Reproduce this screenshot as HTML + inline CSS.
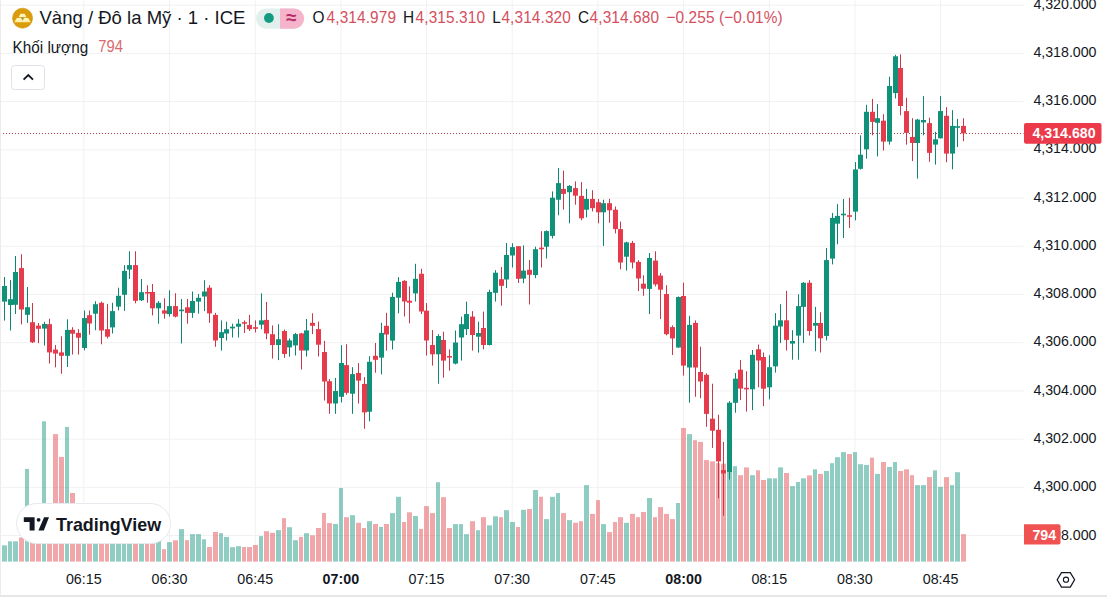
<!DOCTYPE html>
<html><head><meta charset="utf-8">
<style>
html,body{margin:0;padding:0;background:#fff;}
body{width:1107px;height:597px;overflow:hidden;position:relative;font-family:"Liberation Sans",sans-serif;color:#131722;}
svg{position:absolute;left:0;top:0;}
.ax{font-size:14.2px;fill:#131722;}
.tm{font-size:14.3px;fill:#131722;}
.tm.b{font-weight:bold;}
.t{position:absolute;white-space:nowrap;line-height:1;}
</style></head><body>
<svg width="1107" height="597" viewBox="0 0 1107 597">
<rect x="0" y="4.70" width="1023.5" height="1" fill="#f1f1f1"/>
<rect x="0" y="52.91" width="1023.5" height="1" fill="#f1f1f1"/>
<rect x="0" y="101.12" width="1023.5" height="1" fill="#f1f1f1"/>
<rect x="0" y="149.34" width="1023.5" height="1" fill="#f1f1f1"/>
<rect x="0" y="197.55" width="1023.5" height="1" fill="#f1f1f1"/>
<rect x="0" y="245.76" width="1023.5" height="1" fill="#f1f1f1"/>
<rect x="0" y="293.97" width="1023.5" height="1" fill="#f1f1f1"/>
<rect x="0" y="342.18" width="1023.5" height="1" fill="#f1f1f1"/>
<rect x="0" y="390.40" width="1023.5" height="1" fill="#f1f1f1"/>
<rect x="0" y="438.61" width="1023.5" height="1" fill="#f1f1f1"/>
<rect x="0" y="486.82" width="1023.5" height="1" fill="#f1f1f1"/>
<rect x="0" y="535.03" width="1023.5" height="1" fill="#f1f1f1"/>
<rect x="83.32" y="0" width="1" height="561.6" fill="#f1f1f1"/>
<rect x="169.00" y="0" width="1" height="561.6" fill="#f1f1f1"/>
<rect x="254.68" y="0" width="1" height="561.6" fill="#f1f1f1"/>
<rect x="340.36" y="0" width="1" height="561.6" fill="#f1f1f1"/>
<rect x="426.04" y="0" width="1" height="561.6" fill="#f1f1f1"/>
<rect x="511.72" y="0" width="1" height="561.6" fill="#f1f1f1"/>
<rect x="597.40" y="0" width="1" height="561.6" fill="#f1f1f1"/>
<rect x="683.08" y="0" width="1" height="561.6" fill="#f1f1f1"/>
<rect x="768.76" y="0" width="1" height="561.6" fill="#f1f1f1"/>
<rect x="854.44" y="0" width="1" height="561.6" fill="#f1f1f1"/>
<rect x="940.12" y="0" width="1" height="561.6" fill="#f1f1f1"/>
<rect x="2" y="545.30" width="5" height="16.30" fill="rgba(20,150,128,0.48)"/>
<rect x="8" y="541.30" width="4" height="20.30" fill="rgba(20,150,128,0.48)"/>
<rect x="13" y="541.30" width="5" height="20.30" fill="rgba(20,150,128,0.48)"/>
<rect x="19" y="537.50" width="5" height="24.10" fill="rgba(225,70,75,0.48)"/>
<rect x="25" y="468.90" width="4" height="92.70" fill="rgba(20,150,128,0.48)"/>
<rect x="30" y="520.00" width="5" height="41.60" fill="rgba(225,70,75,0.48)"/>
<rect x="36" y="520.00" width="5" height="41.60" fill="rgba(225,70,75,0.48)"/>
<rect x="42" y="421.30" width="4" height="140.30" fill="rgba(20,150,128,0.48)"/>
<rect x="47" y="520.00" width="5" height="41.60" fill="rgba(225,70,75,0.48)"/>
<rect x="53" y="434.10" width="5" height="127.50" fill="rgba(225,70,75,0.48)"/>
<rect x="59" y="456.90" width="5" height="104.70" fill="rgba(225,70,75,0.48)"/>
<rect x="65" y="426.90" width="4" height="134.70" fill="rgba(20,150,128,0.48)"/>
<rect x="70" y="493.00" width="5" height="68.60" fill="rgba(225,70,75,0.48)"/>
<rect x="76" y="520.00" width="5" height="41.60" fill="rgba(225,70,75,0.48)"/>
<rect x="82" y="520.00" width="4" height="41.60" fill="rgba(20,150,128,0.48)"/>
<rect x="87" y="520.00" width="5" height="41.60" fill="rgba(225,70,75,0.48)"/>
<rect x="93" y="520.00" width="5" height="41.60" fill="rgba(20,150,128,0.48)"/>
<rect x="99" y="520.00" width="5" height="41.60" fill="rgba(225,70,75,0.48)"/>
<rect x="105" y="520.00" width="4" height="41.60" fill="rgba(225,70,75,0.48)"/>
<rect x="110" y="520.00" width="5" height="41.60" fill="rgba(20,150,128,0.48)"/>
<rect x="116" y="520.00" width="5" height="41.60" fill="rgba(20,150,128,0.48)"/>
<rect x="122" y="520.00" width="4" height="41.60" fill="rgba(20,150,128,0.48)"/>
<rect x="127" y="520.00" width="5" height="41.60" fill="rgba(20,150,128,0.48)"/>
<rect x="133" y="520.00" width="5" height="41.60" fill="rgba(225,70,75,0.48)"/>
<rect x="139" y="520.00" width="5" height="41.60" fill="rgba(20,150,128,0.48)"/>
<rect x="145" y="520.00" width="4" height="41.60" fill="rgba(225,70,75,0.48)"/>
<rect x="150" y="520.00" width="5" height="41.60" fill="rgba(225,70,75,0.48)"/>
<rect x="156" y="520.00" width="5" height="41.60" fill="rgba(20,150,128,0.48)"/>
<rect x="162" y="549.20" width="4" height="12.40" fill="rgba(225,70,75,0.48)"/>
<rect x="167" y="542.20" width="5" height="19.40" fill="rgba(20,150,128,0.48)"/>
<rect x="173" y="540.30" width="5" height="21.30" fill="rgba(225,70,75,0.48)"/>
<rect x="179" y="529.10" width="5" height="32.50" fill="rgba(20,150,128,0.48)"/>
<rect x="185" y="540.20" width="4" height="21.40" fill="rgba(225,70,75,0.48)"/>
<rect x="190" y="534.10" width="5" height="27.50" fill="rgba(20,150,128,0.48)"/>
<rect x="196" y="534.10" width="5" height="27.50" fill="rgba(20,150,128,0.48)"/>
<rect x="202" y="539.30" width="4" height="22.30" fill="rgba(20,150,128,0.48)"/>
<rect x="207" y="547.00" width="5" height="14.60" fill="rgba(225,70,75,0.48)"/>
<rect x="213" y="532.00" width="5" height="29.60" fill="rgba(225,70,75,0.48)"/>
<rect x="219" y="533.20" width="4" height="28.40" fill="rgba(20,150,128,0.48)"/>
<rect x="224" y="536.90" width="5" height="24.70" fill="rgba(20,150,128,0.48)"/>
<rect x="230" y="547.20" width="5" height="14.40" fill="rgba(20,150,128,0.48)"/>
<rect x="236" y="546.20" width="5" height="15.40" fill="rgba(20,150,128,0.48)"/>
<rect x="242" y="547.00" width="4" height="14.60" fill="rgba(225,70,75,0.48)"/>
<rect x="247" y="547.00" width="5" height="14.60" fill="rgba(225,70,75,0.48)"/>
<rect x="253" y="545.00" width="5" height="16.60" fill="rgba(225,70,75,0.48)"/>
<rect x="259" y="536.10" width="4" height="25.50" fill="rgba(20,150,128,0.48)"/>
<rect x="264" y="531.20" width="5" height="30.40" fill="rgba(225,70,75,0.48)"/>
<rect x="270" y="532.80" width="5" height="28.80" fill="rgba(225,70,75,0.48)"/>
<rect x="276" y="530.10" width="5" height="31.50" fill="rgba(20,150,128,0.48)"/>
<rect x="282" y="518.20" width="4" height="43.40" fill="rgba(225,70,75,0.48)"/>
<rect x="287" y="527.20" width="5" height="34.40" fill="rgba(20,150,128,0.48)"/>
<rect x="293" y="540.20" width="5" height="21.40" fill="rgba(20,150,128,0.48)"/>
<rect x="299" y="536.90" width="4" height="24.70" fill="rgba(225,70,75,0.48)"/>
<rect x="304" y="533.20" width="5" height="28.40" fill="rgba(20,150,128,0.48)"/>
<rect x="310" y="535.30" width="5" height="26.30" fill="rgba(225,70,75,0.48)"/>
<rect x="316" y="528.00" width="5" height="33.60" fill="rgba(225,70,75,0.48)"/>
<rect x="322" y="513.00" width="4" height="48.60" fill="rgba(225,70,75,0.48)"/>
<rect x="327" y="523.10" width="5" height="38.50" fill="rgba(225,70,75,0.48)"/>
<rect x="333" y="524.00" width="5" height="37.60" fill="rgba(20,150,128,0.48)"/>
<rect x="339" y="488.00" width="4" height="73.60" fill="rgba(20,150,128,0.48)"/>
<rect x="344" y="517.20" width="5" height="44.40" fill="rgba(225,70,75,0.48)"/>
<rect x="350" y="515.20" width="5" height="46.40" fill="rgba(20,150,128,0.48)"/>
<rect x="356" y="522.80" width="5" height="38.80" fill="rgba(225,70,75,0.48)"/>
<rect x="362" y="528.00" width="4" height="33.60" fill="rgba(225,70,75,0.48)"/>
<rect x="367" y="521.20" width="5" height="40.40" fill="rgba(20,150,128,0.48)"/>
<rect x="373" y="524.00" width="5" height="37.60" fill="rgba(225,70,75,0.48)"/>
<rect x="379" y="526.90" width="4" height="34.70" fill="rgba(20,150,128,0.48)"/>
<rect x="384" y="524.00" width="5" height="37.60" fill="rgba(225,70,75,0.48)"/>
<rect x="390" y="513.10" width="5" height="48.50" fill="rgba(20,150,128,0.48)"/>
<rect x="396" y="496.80" width="5" height="64.80" fill="rgba(20,150,128,0.48)"/>
<rect x="402" y="522.00" width="4" height="39.60" fill="rgba(225,70,75,0.48)"/>
<rect x="407" y="512.30" width="5" height="49.30" fill="rgba(225,70,75,0.48)"/>
<rect x="413" y="516.00" width="5" height="45.60" fill="rgba(20,150,128,0.48)"/>
<rect x="419" y="528.90" width="4" height="32.70" fill="rgba(225,70,75,0.48)"/>
<rect x="424" y="506.10" width="5" height="55.50" fill="rgba(225,70,75,0.48)"/>
<rect x="430" y="513.10" width="5" height="48.50" fill="rgba(225,70,75,0.48)"/>
<rect x="436" y="482.20" width="4" height="79.40" fill="rgba(20,150,128,0.48)"/>
<rect x="441" y="497.20" width="5" height="64.40" fill="rgba(225,70,75,0.48)"/>
<rect x="447" y="528.00" width="5" height="33.60" fill="rgba(225,70,75,0.48)"/>
<rect x="453" y="524.10" width="5" height="37.50" fill="rgba(20,150,128,0.48)"/>
<rect x="459" y="524.10" width="4" height="37.50" fill="rgba(20,150,128,0.48)"/>
<rect x="464" y="534.20" width="5" height="27.40" fill="rgba(20,150,128,0.48)"/>
<rect x="470" y="521.20" width="5" height="40.40" fill="rgba(225,70,75,0.48)"/>
<rect x="476" y="530.20" width="4" height="31.40" fill="rgba(20,150,128,0.48)"/>
<rect x="481" y="517.20" width="5" height="44.40" fill="rgba(225,70,75,0.48)"/>
<rect x="487" y="525.30" width="5" height="36.30" fill="rgba(20,150,128,0.48)"/>
<rect x="493" y="516.30" width="5" height="45.30" fill="rgba(20,150,128,0.48)"/>
<rect x="499" y="517.20" width="4" height="44.40" fill="rgba(225,70,75,0.48)"/>
<rect x="504" y="510.20" width="5" height="51.40" fill="rgba(20,150,128,0.48)"/>
<rect x="510" y="522.00" width="5" height="39.60" fill="rgba(20,150,128,0.48)"/>
<rect x="516" y="526.90" width="4" height="34.70" fill="rgba(225,70,75,0.48)"/>
<rect x="521" y="509.80" width="5" height="51.80" fill="rgba(20,150,128,0.48)"/>
<rect x="527" y="509.00" width="5" height="52.60" fill="rgba(225,70,75,0.48)"/>
<rect x="533" y="490.00" width="5" height="71.60" fill="rgba(20,150,128,0.48)"/>
<rect x="539" y="496.80" width="4" height="64.80" fill="rgba(225,70,75,0.48)"/>
<rect x="544" y="519.10" width="5" height="42.50" fill="rgba(20,150,128,0.48)"/>
<rect x="550" y="496.80" width="5" height="64.80" fill="rgba(20,150,128,0.48)"/>
<rect x="556" y="493.10" width="4" height="68.50" fill="rgba(20,150,128,0.48)"/>
<rect x="561" y="513.10" width="5" height="48.50" fill="rgba(225,70,75,0.48)"/>
<rect x="567" y="520.10" width="5" height="41.50" fill="rgba(20,150,128,0.48)"/>
<rect x="573" y="522.80" width="5" height="38.80" fill="rgba(225,70,75,0.48)"/>
<rect x="579" y="521.20" width="4" height="40.40" fill="rgba(225,70,75,0.48)"/>
<rect x="584" y="485.10" width="5" height="76.50" fill="rgba(20,150,128,0.48)"/>
<rect x="590" y="513.90" width="5" height="47.70" fill="rgba(225,70,75,0.48)"/>
<rect x="596" y="500.10" width="4" height="61.50" fill="rgba(225,70,75,0.48)"/>
<rect x="601" y="524.10" width="5" height="37.50" fill="rgba(20,150,128,0.48)"/>
<rect x="607" y="532.10" width="5" height="29.50" fill="rgba(225,70,75,0.48)"/>
<rect x="613" y="522.00" width="4" height="39.60" fill="rgba(225,70,75,0.48)"/>
<rect x="618" y="517.20" width="5" height="44.40" fill="rgba(225,70,75,0.48)"/>
<rect x="624" y="522.80" width="5" height="38.80" fill="rgba(20,150,128,0.48)"/>
<rect x="630" y="513.90" width="5" height="47.70" fill="rgba(225,70,75,0.48)"/>
<rect x="636" y="517.20" width="4" height="44.40" fill="rgba(225,70,75,0.48)"/>
<rect x="641" y="512.00" width="5" height="49.60" fill="rgba(225,70,75,0.48)"/>
<rect x="647" y="498.00" width="5" height="63.60" fill="rgba(20,150,128,0.48)"/>
<rect x="653" y="517.20" width="4" height="44.40" fill="rgba(225,70,75,0.48)"/>
<rect x="658" y="507.10" width="5" height="54.50" fill="rgba(225,70,75,0.48)"/>
<rect x="664" y="513.90" width="5" height="47.70" fill="rgba(225,70,75,0.48)"/>
<rect x="670" y="519.10" width="5" height="42.50" fill="rgba(225,70,75,0.48)"/>
<rect x="676" y="503.00" width="4" height="58.60" fill="rgba(20,150,128,0.48)"/>
<rect x="681" y="428.00" width="5" height="133.60" fill="rgba(225,70,75,0.48)"/>
<rect x="687" y="434.10" width="5" height="127.50" fill="rgba(20,150,128,0.48)"/>
<rect x="693" y="440.20" width="4" height="121.40" fill="rgba(225,70,75,0.48)"/>
<rect x="698" y="441.90" width="5" height="119.70" fill="rgba(225,70,75,0.48)"/>
<rect x="704" y="460.10" width="5" height="101.50" fill="rgba(225,70,75,0.48)"/>
<rect x="710" y="461.30" width="5" height="100.30" fill="rgba(225,70,75,0.48)"/>
<rect x="716" y="463.20" width="4" height="98.40" fill="rgba(225,70,75,0.48)"/>
<rect x="721" y="463.70" width="5" height="97.90" fill="rgba(225,70,75,0.48)"/>
<rect x="727" y="466.00" width="5" height="95.60" fill="rgba(20,150,128,0.48)"/>
<rect x="733" y="466.20" width="4" height="95.40" fill="rgba(20,150,128,0.48)"/>
<rect x="738" y="475.20" width="5" height="86.40" fill="rgba(225,70,75,0.48)"/>
<rect x="744" y="467.40" width="5" height="94.20" fill="rgba(225,70,75,0.48)"/>
<rect x="750" y="475.20" width="5" height="86.40" fill="rgba(20,150,128,0.48)"/>
<rect x="756" y="470.30" width="4" height="91.30" fill="rgba(225,70,75,0.48)"/>
<rect x="761" y="480.00" width="5" height="81.60" fill="rgba(225,70,75,0.48)"/>
<rect x="767" y="478.30" width="5" height="83.30" fill="rgba(20,150,128,0.48)"/>
<rect x="773" y="478.30" width="4" height="83.30" fill="rgba(20,150,128,0.48)"/>
<rect x="778" y="467.40" width="5" height="94.20" fill="rgba(20,150,128,0.48)"/>
<rect x="784" y="473.00" width="5" height="88.60" fill="rgba(225,70,75,0.48)"/>
<rect x="790" y="486.10" width="5" height="75.50" fill="rgba(20,150,128,0.48)"/>
<rect x="796" y="482.00" width="4" height="79.60" fill="rgba(20,150,128,0.48)"/>
<rect x="801" y="478.30" width="5" height="83.30" fill="rgba(20,150,128,0.48)"/>
<rect x="807" y="475.40" width="5" height="86.20" fill="rgba(225,70,75,0.48)"/>
<rect x="813" y="469.30" width="4" height="92.30" fill="rgba(20,150,128,0.48)"/>
<rect x="818" y="473.90" width="5" height="87.70" fill="rgba(225,70,75,0.48)"/>
<rect x="824" y="471.00" width="5" height="90.60" fill="rgba(20,150,128,0.48)"/>
<rect x="830" y="463.20" width="4" height="98.40" fill="rgba(20,150,128,0.48)"/>
<rect x="835" y="457.20" width="5" height="104.40" fill="rgba(20,150,128,0.48)"/>
<rect x="841" y="452.10" width="5" height="109.50" fill="rgba(20,150,128,0.48)"/>
<rect x="847" y="454.00" width="5" height="107.60" fill="rgba(225,70,75,0.48)"/>
<rect x="853" y="452.10" width="4" height="109.50" fill="rgba(20,150,128,0.48)"/>
<rect x="858" y="464.20" width="5" height="97.40" fill="rgba(20,150,128,0.48)"/>
<rect x="864" y="464.90" width="5" height="96.70" fill="rgba(20,150,128,0.48)"/>
<rect x="870" y="457.70" width="4" height="103.90" fill="rgba(225,70,75,0.48)"/>
<rect x="875" y="473.90" width="5" height="87.70" fill="rgba(20,150,128,0.48)"/>
<rect x="881" y="462.00" width="5" height="99.60" fill="rgba(225,70,75,0.48)"/>
<rect x="887" y="466.90" width="5" height="94.70" fill="rgba(20,150,128,0.48)"/>
<rect x="893" y="462.00" width="4" height="99.60" fill="rgba(20,150,128,0.48)"/>
<rect x="898" y="471.00" width="5" height="90.60" fill="rgba(225,70,75,0.48)"/>
<rect x="904" y="469.30" width="5" height="92.30" fill="rgba(225,70,75,0.48)"/>
<rect x="910" y="475.20" width="4" height="86.40" fill="rgba(225,70,75,0.48)"/>
<rect x="915" y="485.10" width="5" height="76.50" fill="rgba(20,150,128,0.48)"/>
<rect x="921" y="485.10" width="5" height="76.50" fill="rgba(20,150,128,0.48)"/>
<rect x="927" y="477.10" width="5" height="84.50" fill="rgba(225,70,75,0.48)"/>
<rect x="933" y="470.30" width="4" height="91.30" fill="rgba(20,150,128,0.48)"/>
<rect x="938" y="486.80" width="5" height="74.80" fill="rgba(20,150,128,0.48)"/>
<rect x="944" y="477.10" width="5" height="84.50" fill="rgba(225,70,75,0.48)"/>
<rect x="950" y="485.10" width="4" height="76.50" fill="rgba(20,150,128,0.48)"/>
<rect x="955" y="472.20" width="5" height="89.40" fill="rgba(20,150,128,0.48)"/>
<rect x="961" y="534.20" width="5" height="27.40" fill="rgba(225,70,75,0.48)"/>
<line x1="0" y1="133.5" x2="1023.5" y2="133.5" stroke="#b5434f" stroke-width="1" stroke-dasharray="1 2"/>
<rect x="4" y="277.00" width="1" height="43.60" fill="#0d8570"/>
<rect x="2" y="286.00" width="5" height="15.60" fill="#10917a"/>
<rect x="10" y="280.00" width="1" height="50.50" fill="#0d8570"/>
<rect x="8" y="299.20" width="5" height="5.80" fill="#10917a"/>
<rect x="15" y="256.00" width="1" height="58.00" fill="#0d8570"/>
<rect x="13" y="272.00" width="5" height="32.80" fill="#10917a"/>
<rect x="21" y="254.20" width="1" height="70.20" fill="#c8384a"/>
<rect x="19" y="268.10" width="5" height="41.40" fill="#e53b4d"/>
<rect x="27" y="287.00" width="1" height="36.00" fill="#0d8570"/>
<rect x="25" y="307.20" width="5" height="7.60" fill="#10917a"/>
<rect x="32" y="303.00" width="1" height="40.00" fill="#c8384a"/>
<rect x="30" y="322.20" width="5" height="20.10" fill="#e53b4d"/>
<rect x="38" y="323.00" width="1" height="20.20" fill="#c8384a"/>
<rect x="36" y="325.60" width="5" height="3.20" fill="#e53b4d"/>
<rect x="44" y="321.80" width="1" height="23.80" fill="#0d8570"/>
<rect x="42" y="324.00" width="5" height="4.60" fill="#10917a"/>
<rect x="49" y="318.80" width="1" height="44.70" fill="#c8384a"/>
<rect x="47" y="324.20" width="5" height="28.20" fill="#e53b4d"/>
<rect x="55" y="345.00" width="1" height="22.40" fill="#c8384a"/>
<rect x="53" y="349.60" width="5" height="4.00" fill="#e53b4d"/>
<rect x="61" y="336.30" width="1" height="37.50" fill="#c8384a"/>
<rect x="59" y="352.40" width="5" height="3.40" fill="#e53b4d"/>
<rect x="67" y="319.30" width="1" height="47.70" fill="#0d8570"/>
<rect x="65" y="329.90" width="5" height="25.90" fill="#10917a"/>
<rect x="72" y="327.20" width="1" height="27.30" fill="#c8384a"/>
<rect x="70" y="329.80" width="5" height="3.90" fill="#e53b4d"/>
<rect x="78" y="329.20" width="1" height="25.30" fill="#c8384a"/>
<rect x="76" y="332.90" width="5" height="4.80" fill="#e53b4d"/>
<rect x="84" y="310.50" width="1" height="39.90" fill="#0d8570"/>
<rect x="82" y="318.10" width="5" height="29.90" fill="#10917a"/>
<rect x="89" y="310.50" width="1" height="24.20" fill="#c8384a"/>
<rect x="87" y="315.20" width="5" height="8.30" fill="#e53b4d"/>
<rect x="95" y="301.20" width="1" height="29.00" fill="#0d8570"/>
<rect x="93" y="304.20" width="5" height="9.50" fill="#10917a"/>
<rect x="101" y="301.60" width="1" height="42.70" fill="#c8384a"/>
<rect x="99" y="302.80" width="5" height="27.70" fill="#e53b4d"/>
<rect x="107" y="304.00" width="1" height="34.50" fill="#c8384a"/>
<rect x="105" y="329.20" width="5" height="7.50" fill="#e53b4d"/>
<rect x="112" y="302.80" width="1" height="30.70" fill="#0d8570"/>
<rect x="110" y="311.10" width="5" height="16.30" fill="#10917a"/>
<rect x="118" y="287.70" width="1" height="22.70" fill="#0d8570"/>
<rect x="116" y="295.80" width="5" height="10.80" fill="#10917a"/>
<rect x="124" y="265.10" width="1" height="45.80" fill="#0d8570"/>
<rect x="122" y="270.90" width="5" height="23.90" fill="#10917a"/>
<rect x="129" y="251.30" width="1" height="27.70" fill="#0d8570"/>
<rect x="127" y="265.10" width="5" height="4.50" fill="#10917a"/>
<rect x="135" y="251.30" width="1" height="52.00" fill="#c8384a"/>
<rect x="133" y="265.10" width="5" height="35.70" fill="#e53b4d"/>
<rect x="141" y="279.00" width="1" height="22.00" fill="#0d8570"/>
<rect x="139" y="292.20" width="5" height="8.10" fill="#10917a"/>
<rect x="147" y="285.20" width="1" height="17.60" fill="#c8384a"/>
<rect x="145" y="292.00" width="5" height="1.60" fill="#e53b4d"/>
<rect x="152" y="284.00" width="1" height="31.40" fill="#c8384a"/>
<rect x="150" y="292.00" width="5" height="16.30" fill="#e53b4d"/>
<rect x="158" y="301.00" width="1" height="22.70" fill="#0d8570"/>
<rect x="156" y="302.80" width="5" height="5.50" fill="#10917a"/>
<rect x="164" y="298.30" width="1" height="20.30" fill="#c8384a"/>
<rect x="162" y="310.40" width="5" height="3.20" fill="#e53b4d"/>
<rect x="169" y="290.30" width="1" height="26.30" fill="#0d8570"/>
<rect x="167" y="306.10" width="5" height="8.00" fill="#10917a"/>
<rect x="175" y="293.30" width="1" height="24.10" fill="#c8384a"/>
<rect x="173" y="306.10" width="5" height="10.50" fill="#e53b4d"/>
<rect x="181" y="299.00" width="1" height="44.50" fill="#0d8570"/>
<rect x="179" y="309.60" width="5" height="1.60" fill="#10917a"/>
<rect x="187" y="299.00" width="1" height="24.70" fill="#c8384a"/>
<rect x="185" y="307.30" width="5" height="5.60" fill="#e53b4d"/>
<rect x="192" y="291.50" width="1" height="26.40" fill="#0d8570"/>
<rect x="190" y="301.00" width="5" height="11.90" fill="#10917a"/>
<rect x="198" y="294.00" width="1" height="19.60" fill="#0d8570"/>
<rect x="196" y="297.80" width="5" height="3.80" fill="#10917a"/>
<rect x="204" y="280.20" width="1" height="30.90" fill="#0d8570"/>
<rect x="202" y="291.50" width="5" height="5.00" fill="#10917a"/>
<rect x="209" y="285.20" width="1" height="37.70" fill="#c8384a"/>
<rect x="207" y="287.70" width="5" height="25.70" fill="#e53b4d"/>
<rect x="215" y="312.90" width="1" height="33.90" fill="#c8384a"/>
<rect x="213" y="314.90" width="5" height="25.60" fill="#e53b4d"/>
<rect x="221" y="320.40" width="1" height="30.20" fill="#0d8570"/>
<rect x="219" y="332.20" width="5" height="5.80" fill="#10917a"/>
<rect x="226" y="321.70" width="1" height="18.80" fill="#0d8570"/>
<rect x="224" y="329.20" width="5" height="4.30" fill="#10917a"/>
<rect x="232" y="323.70" width="1" height="13.80" fill="#0d8570"/>
<rect x="230" y="326.70" width="5" height="1.70" fill="#10917a"/>
<rect x="238" y="319.10" width="1" height="18.40" fill="#0d8570"/>
<rect x="236" y="323.70" width="5" height="3.00" fill="#10917a"/>
<rect x="244" y="320.40" width="1" height="12.60" fill="#c8384a"/>
<rect x="242" y="322.15" width="5" height="1.60" fill="#e53b4d"/>
<rect x="249" y="314.90" width="1" height="16.10" fill="#c8384a"/>
<rect x="247" y="324.90" width="5" height="4.30" fill="#e53b4d"/>
<rect x="255" y="320.40" width="1" height="12.10" fill="#c8384a"/>
<rect x="253" y="327.20" width="5" height="1.60" fill="#e53b4d"/>
<rect x="261" y="293.30" width="1" height="35.90" fill="#0d8570"/>
<rect x="259" y="320.40" width="5" height="4.30" fill="#10917a"/>
<rect x="266" y="302.00" width="1" height="37.20" fill="#c8384a"/>
<rect x="264" y="319.90" width="5" height="13.60" fill="#e53b4d"/>
<rect x="272" y="325.40" width="1" height="33.20" fill="#c8384a"/>
<rect x="270" y="334.20" width="5" height="10.80" fill="#e53b4d"/>
<rect x="278" y="324.20" width="1" height="35.90" fill="#0d8570"/>
<rect x="276" y="339.20" width="5" height="5.80" fill="#10917a"/>
<rect x="284" y="329.50" width="1" height="28.30" fill="#c8384a"/>
<rect x="282" y="331.00" width="5" height="23.00" fill="#e53b4d"/>
<rect x="289" y="338.40" width="1" height="18.30" fill="#0d8570"/>
<rect x="287" y="340.40" width="5" height="7.00" fill="#10917a"/>
<rect x="295" y="332.90" width="1" height="22.60" fill="#0d8570"/>
<rect x="293" y="334.10" width="5" height="11.30" fill="#10917a"/>
<rect x="301" y="332.90" width="1" height="36.60" fill="#c8384a"/>
<rect x="299" y="333.40" width="5" height="17.10" fill="#e53b4d"/>
<rect x="306" y="319.00" width="1" height="37.60" fill="#0d8570"/>
<rect x="304" y="330.40" width="5" height="20.10" fill="#10917a"/>
<rect x="312" y="313.30" width="1" height="20.80" fill="#c8384a"/>
<rect x="310" y="322.80" width="5" height="3.00" fill="#e53b4d"/>
<rect x="318" y="321.60" width="1" height="34.90" fill="#c8384a"/>
<rect x="316" y="329.10" width="5" height="15.60" fill="#e53b4d"/>
<rect x="324" y="340.90" width="1" height="59.60" fill="#c8384a"/>
<rect x="322" y="352.00" width="5" height="29.50" fill="#e53b4d"/>
<rect x="329" y="379.00" width="1" height="34.80" fill="#c8384a"/>
<rect x="327" y="381.20" width="5" height="22.30" fill="#e53b4d"/>
<rect x="335" y="377.90" width="1" height="35.90" fill="#0d8570"/>
<rect x="333" y="391.00" width="5" height="12.50" fill="#10917a"/>
<rect x="341" y="345.20" width="1" height="57.30" fill="#0d8570"/>
<rect x="339" y="363.00" width="5" height="33.80" fill="#10917a"/>
<rect x="346" y="344.20" width="1" height="50.50" fill="#c8384a"/>
<rect x="344" y="365.10" width="5" height="27.70" fill="#e53b4d"/>
<rect x="352" y="367.20" width="1" height="46.60" fill="#0d8570"/>
<rect x="350" y="374.10" width="5" height="19.60" fill="#10917a"/>
<rect x="358" y="363.10" width="1" height="40.40" fill="#c8384a"/>
<rect x="356" y="373.00" width="5" height="7.60" fill="#e53b4d"/>
<rect x="364" y="377.10" width="1" height="51.70" fill="#c8384a"/>
<rect x="362" y="383.90" width="5" height="28.50" fill="#e53b4d"/>
<rect x="369" y="356.30" width="1" height="65.00" fill="#0d8570"/>
<rect x="367" y="361.80" width="5" height="49.90" fill="#10917a"/>
<rect x="375" y="343.00" width="1" height="29.70" fill="#c8384a"/>
<rect x="373" y="355.80" width="5" height="4.00" fill="#e53b4d"/>
<rect x="381" y="322.80" width="1" height="51.60" fill="#0d8570"/>
<rect x="379" y="332.90" width="5" height="24.70" fill="#10917a"/>
<rect x="386" y="312.80" width="1" height="37.90" fill="#c8384a"/>
<rect x="384" y="325.80" width="5" height="8.70" fill="#e53b4d"/>
<rect x="392" y="292.70" width="1" height="56.80" fill="#0d8570"/>
<rect x="390" y="296.90" width="5" height="43.70" fill="#10917a"/>
<rect x="398" y="277.10" width="1" height="36.20" fill="#0d8570"/>
<rect x="396" y="281.90" width="5" height="15.80" fill="#10917a"/>
<rect x="404" y="280.10" width="1" height="36.40" fill="#c8384a"/>
<rect x="402" y="280.90" width="5" height="20.60" fill="#e53b4d"/>
<rect x="409" y="286.40" width="1" height="36.90" fill="#c8384a"/>
<rect x="407" y="300.70" width="5" height="2.00" fill="#e53b4d"/>
<rect x="415" y="263.80" width="1" height="37.70" fill="#0d8570"/>
<rect x="413" y="278.80" width="5" height="14.60" fill="#10917a"/>
<rect x="421" y="268.80" width="1" height="45.20" fill="#c8384a"/>
<rect x="419" y="273.80" width="5" height="37.70" fill="#e53b4d"/>
<rect x="426" y="303.00" width="1" height="52.50" fill="#c8384a"/>
<rect x="424" y="310.70" width="5" height="29.80" fill="#e53b4d"/>
<rect x="432" y="330.00" width="1" height="35.60" fill="#c8384a"/>
<rect x="430" y="345.00" width="5" height="9.30" fill="#e53b4d"/>
<rect x="438" y="334.20" width="1" height="49.50" fill="#0d8570"/>
<rect x="436" y="336.00" width="5" height="18.30" fill="#10917a"/>
<rect x="443" y="331.70" width="1" height="46.00" fill="#c8384a"/>
<rect x="441" y="340.00" width="5" height="20.60" fill="#e53b4d"/>
<rect x="449" y="349.30" width="1" height="21.40" fill="#c8384a"/>
<rect x="447" y="356.00" width="5" height="1.60" fill="#e53b4d"/>
<rect x="455" y="330.50" width="1" height="33.90" fill="#0d8570"/>
<rect x="453" y="342.50" width="5" height="21.10" fill="#10917a"/>
<rect x="461" y="316.60" width="1" height="44.00" fill="#0d8570"/>
<rect x="459" y="324.20" width="5" height="13.30" fill="#10917a"/>
<rect x="466" y="301.60" width="1" height="33.40" fill="#0d8570"/>
<rect x="464" y="314.10" width="5" height="15.10" fill="#10917a"/>
<rect x="472" y="311.10" width="1" height="39.50" fill="#c8384a"/>
<rect x="470" y="316.60" width="5" height="18.40" fill="#e53b4d"/>
<rect x="478" y="321.70" width="1" height="30.90" fill="#0d8570"/>
<rect x="476" y="333.00" width="5" height="3.70" fill="#10917a"/>
<rect x="483" y="311.60" width="1" height="37.70" fill="#c8384a"/>
<rect x="481" y="328.00" width="5" height="17.00" fill="#e53b4d"/>
<rect x="489" y="289.70" width="1" height="55.80" fill="#0d8570"/>
<rect x="487" y="292.00" width="5" height="53.00" fill="#10917a"/>
<rect x="495" y="270.20" width="1" height="31.40" fill="#0d8570"/>
<rect x="493" y="272.70" width="5" height="20.10" fill="#10917a"/>
<rect x="501" y="267.00" width="1" height="38.70" fill="#c8384a"/>
<rect x="499" y="279.20" width="5" height="6.60" fill="#e53b4d"/>
<rect x="506" y="243.00" width="1" height="45.10" fill="#0d8570"/>
<rect x="504" y="255.00" width="5" height="24.50" fill="#10917a"/>
<rect x="512" y="243.20" width="1" height="24.30" fill="#0d8570"/>
<rect x="510" y="247.10" width="5" height="8.40" fill="#10917a"/>
<rect x="518" y="246.00" width="1" height="37.00" fill="#c8384a"/>
<rect x="516" y="246.20" width="5" height="32.60" fill="#e53b4d"/>
<rect x="523" y="245.40" width="1" height="37.70" fill="#0d8570"/>
<rect x="521" y="270.60" width="5" height="8.00" fill="#10917a"/>
<rect x="529" y="260.00" width="1" height="44.50" fill="#c8384a"/>
<rect x="527" y="269.80" width="5" height="5.00" fill="#e53b4d"/>
<rect x="535" y="246.70" width="1" height="31.40" fill="#0d8570"/>
<rect x="533" y="249.20" width="5" height="25.90" fill="#10917a"/>
<rect x="541" y="231.10" width="1" height="36.40" fill="#c8384a"/>
<rect x="539" y="247.65" width="5" height="1.60" fill="#e53b4d"/>
<rect x="546" y="230.40" width="1" height="28.10" fill="#0d8570"/>
<rect x="544" y="231.10" width="5" height="15.60" fill="#10917a"/>
<rect x="552" y="191.40" width="1" height="47.00" fill="#0d8570"/>
<rect x="550" y="197.70" width="5" height="38.20" fill="#10917a"/>
<rect x="558" y="168.00" width="1" height="47.30" fill="#0d8570"/>
<rect x="556" y="183.10" width="5" height="16.60" fill="#10917a"/>
<rect x="563" y="170.60" width="1" height="39.10" fill="#c8384a"/>
<rect x="561" y="188.90" width="5" height="5.00" fill="#e53b4d"/>
<rect x="569" y="185.10" width="1" height="38.20" fill="#0d8570"/>
<rect x="567" y="185.90" width="5" height="6.30" fill="#10917a"/>
<rect x="575" y="181.40" width="1" height="23.30" fill="#c8384a"/>
<rect x="573" y="188.10" width="5" height="7.60" fill="#e53b4d"/>
<rect x="581" y="182.10" width="1" height="38.20" fill="#c8384a"/>
<rect x="579" y="195.90" width="5" height="22.40" fill="#e53b4d"/>
<rect x="586" y="188.90" width="1" height="28.40" fill="#0d8570"/>
<rect x="584" y="198.90" width="5" height="10.80" fill="#10917a"/>
<rect x="592" y="190.20" width="1" height="21.30" fill="#c8384a"/>
<rect x="590" y="198.90" width="5" height="9.30" fill="#e53b4d"/>
<rect x="598" y="198.90" width="1" height="24.40" fill="#c8384a"/>
<rect x="596" y="202.20" width="5" height="10.10" fill="#e53b4d"/>
<rect x="603" y="199.70" width="1" height="46.20" fill="#0d8570"/>
<rect x="601" y="203.20" width="5" height="9.10" fill="#10917a"/>
<rect x="609" y="198.90" width="1" height="23.90" fill="#c8384a"/>
<rect x="607" y="203.20" width="5" height="7.10" fill="#e53b4d"/>
<rect x="615" y="206.50" width="1" height="26.90" fill="#c8384a"/>
<rect x="613" y="209.70" width="5" height="19.40" fill="#e53b4d"/>
<rect x="620" y="221.60" width="1" height="47.70" fill="#c8384a"/>
<rect x="618" y="229.10" width="5" height="33.40" fill="#e53b4d"/>
<rect x="626" y="241.70" width="1" height="28.90" fill="#0d8570"/>
<rect x="624" y="242.40" width="5" height="14.30" fill="#10917a"/>
<rect x="632" y="240.90" width="1" height="27.60" fill="#c8384a"/>
<rect x="630" y="242.90" width="5" height="19.60" fill="#e53b4d"/>
<rect x="638" y="260.20" width="1" height="30.90" fill="#c8384a"/>
<rect x="636" y="261.90" width="5" height="16.60" fill="#e53b4d"/>
<rect x="643" y="275.30" width="1" height="20.50" fill="#c8384a"/>
<rect x="641" y="283.70" width="5" height="5.00" fill="#e53b4d"/>
<rect x="649" y="253.00" width="1" height="61.10" fill="#0d8570"/>
<rect x="647" y="258.00" width="5" height="30.90" fill="#10917a"/>
<rect x="655" y="251.30" width="1" height="35.10" fill="#c8384a"/>
<rect x="653" y="260.60" width="5" height="23.80" fill="#e53b4d"/>
<rect x="660" y="273.10" width="1" height="46.00" fill="#c8384a"/>
<rect x="658" y="275.60" width="5" height="14.10" fill="#e53b4d"/>
<rect x="666" y="285.20" width="1" height="50.20" fill="#c8384a"/>
<rect x="664" y="294.00" width="5" height="40.20" fill="#e53b4d"/>
<rect x="672" y="325.40" width="1" height="29.60" fill="#c8384a"/>
<rect x="670" y="327.10" width="5" height="11.30" fill="#e53b4d"/>
<rect x="678" y="296.50" width="1" height="51.50" fill="#0d8570"/>
<rect x="676" y="297.00" width="5" height="50.50" fill="#10917a"/>
<rect x="683" y="282.70" width="1" height="92.90" fill="#c8384a"/>
<rect x="681" y="296.00" width="5" height="69.60" fill="#e53b4d"/>
<rect x="689" y="315.80" width="1" height="86.90" fill="#0d8570"/>
<rect x="687" y="324.90" width="5" height="42.60" fill="#10917a"/>
<rect x="695" y="320.40" width="1" height="76.40" fill="#c8384a"/>
<rect x="693" y="322.90" width="5" height="44.60" fill="#e53b4d"/>
<rect x="700" y="346.70" width="1" height="51.50" fill="#c8384a"/>
<rect x="698" y="372.00" width="5" height="9.50" fill="#e53b4d"/>
<rect x="706" y="373.30" width="1" height="53.50" fill="#c8384a"/>
<rect x="704" y="374.80" width="5" height="39.10" fill="#e53b4d"/>
<rect x="712" y="383.70" width="1" height="64.20" fill="#c8384a"/>
<rect x="710" y="418.70" width="5" height="12.00" fill="#e53b4d"/>
<rect x="718" y="414.80" width="1" height="83.40" fill="#c8384a"/>
<rect x="716" y="429.80" width="5" height="31.60" fill="#e53b4d"/>
<rect x="723" y="441.90" width="1" height="73.80" fill="#c8384a"/>
<rect x="721" y="470.00" width="5" height="3.50" fill="#e53b4d"/>
<rect x="729" y="401.20" width="1" height="78.30" fill="#0d8570"/>
<rect x="727" y="402.70" width="5" height="69.30" fill="#10917a"/>
<rect x="735" y="373.00" width="1" height="39.70" fill="#0d8570"/>
<rect x="733" y="378.70" width="5" height="24.10" fill="#10917a"/>
<rect x="740" y="360.00" width="1" height="40.00" fill="#c8384a"/>
<rect x="738" y="369.70" width="5" height="18.90" fill="#e53b4d"/>
<rect x="746" y="371.20" width="1" height="40.40" fill="#c8384a"/>
<rect x="744" y="387.80" width="5" height="1.60" fill="#e53b4d"/>
<rect x="752" y="350.00" width="1" height="60.10" fill="#0d8570"/>
<rect x="750" y="354.80" width="5" height="34.50" fill="#10917a"/>
<rect x="758" y="344.50" width="1" height="42.80" fill="#c8384a"/>
<rect x="756" y="349.30" width="5" height="11.20" fill="#e53b4d"/>
<rect x="763" y="352.50" width="1" height="53.60" fill="#c8384a"/>
<rect x="761" y="357.00" width="5" height="31.70" fill="#e53b4d"/>
<rect x="769" y="355.20" width="1" height="44.20" fill="#0d8570"/>
<rect x="767" y="367.20" width="5" height="20.10" fill="#10917a"/>
<rect x="775" y="313.10" width="1" height="59.50" fill="#0d8570"/>
<rect x="773" y="325.70" width="5" height="40.70" fill="#10917a"/>
<rect x="780" y="304.20" width="1" height="38.90" fill="#0d8570"/>
<rect x="778" y="320.30" width="5" height="6.20" fill="#10917a"/>
<rect x="786" y="290.80" width="1" height="59.80" fill="#c8384a"/>
<rect x="784" y="320.30" width="5" height="19.60" fill="#e53b4d"/>
<rect x="792" y="330.20" width="1" height="29.50" fill="#0d8570"/>
<rect x="790" y="341.00" width="5" height="2.60" fill="#10917a"/>
<rect x="798" y="294.30" width="1" height="65.40" fill="#0d8570"/>
<rect x="796" y="306.10" width="5" height="29.50" fill="#10917a"/>
<rect x="803" y="282.00" width="1" height="61.10" fill="#0d8570"/>
<rect x="801" y="282.80" width="5" height="24.10" fill="#10917a"/>
<rect x="809" y="280.10" width="1" height="55.50" fill="#c8384a"/>
<rect x="807" y="282.80" width="5" height="48.20" fill="#e53b4d"/>
<rect x="815" y="306.90" width="1" height="44.30" fill="#0d8570"/>
<rect x="813" y="323.00" width="5" height="2.70" fill="#10917a"/>
<rect x="820" y="312.30" width="1" height="40.20" fill="#c8384a"/>
<rect x="818" y="323.00" width="5" height="15.30" fill="#e53b4d"/>
<rect x="826" y="248.00" width="1" height="92.40" fill="#0d8570"/>
<rect x="824" y="260.10" width="5" height="75.80" fill="#10917a"/>
<rect x="832" y="212.90" width="1" height="51.50" fill="#0d8570"/>
<rect x="830" y="217.90" width="5" height="40.70" fill="#10917a"/>
<rect x="837" y="204.10" width="1" height="40.20" fill="#0d8570"/>
<rect x="835" y="215.90" width="5" height="7.80" fill="#10917a"/>
<rect x="843" y="199.00" width="1" height="39.00" fill="#0d8570"/>
<rect x="841" y="213.70" width="5" height="1.60" fill="#10917a"/>
<rect x="849" y="197.80" width="1" height="30.20" fill="#c8384a"/>
<rect x="847" y="215.20" width="5" height="1.60" fill="#e53b4d"/>
<rect x="855" y="162.10" width="1" height="58.30" fill="#0d8570"/>
<rect x="853" y="169.40" width="5" height="42.20" fill="#10917a"/>
<rect x="860" y="135.30" width="1" height="34.20" fill="#0d8570"/>
<rect x="858" y="154.70" width="5" height="14.10" fill="#10917a"/>
<rect x="866" y="104.80" width="1" height="53.90" fill="#0d8570"/>
<rect x="864" y="111.80" width="5" height="37.50" fill="#10917a"/>
<rect x="872" y="98.90" width="1" height="36.40" fill="#c8384a"/>
<rect x="870" y="111.80" width="5" height="10.10" fill="#e53b4d"/>
<rect x="877" y="104.10" width="1" height="52.30" fill="#0d8570"/>
<rect x="875" y="118.20" width="5" height="4.60" fill="#10917a"/>
<rect x="883" y="114.20" width="1" height="36.30" fill="#c8384a"/>
<rect x="881" y="120.70" width="5" height="20.90" fill="#e53b4d"/>
<rect x="889" y="76.70" width="1" height="67.90" fill="#0d8570"/>
<rect x="887" y="86.00" width="5" height="55.60" fill="#10917a"/>
<rect x="895" y="54.80" width="1" height="43.70" fill="#0d8570"/>
<rect x="893" y="56.30" width="5" height="36.80" fill="#10917a"/>
<rect x="900" y="54.40" width="1" height="60.90" fill="#c8384a"/>
<rect x="898" y="68.00" width="5" height="38.00" fill="#e53b4d"/>
<rect x="906" y="97.80" width="1" height="46.80" fill="#c8384a"/>
<rect x="904" y="111.10" width="5" height="21.80" fill="#e53b4d"/>
<rect x="912" y="118.20" width="1" height="42.90" fill="#c8384a"/>
<rect x="910" y="136.90" width="5" height="6.10" fill="#e53b4d"/>
<rect x="917" y="118.90" width="1" height="59.70" fill="#0d8570"/>
<rect x="915" y="119.60" width="5" height="23.40" fill="#10917a"/>
<rect x="923" y="96.10" width="1" height="39.20" fill="#0d8570"/>
<rect x="921" y="120.00" width="5" height="2.40" fill="#10917a"/>
<rect x="929" y="117.70" width="1" height="44.10" fill="#c8384a"/>
<rect x="927" y="123.10" width="5" height="29.80" fill="#e53b4d"/>
<rect x="935" y="131.80" width="1" height="32.80" fill="#0d8570"/>
<rect x="933" y="139.30" width="5" height="5.30" fill="#10917a"/>
<rect x="940" y="96.10" width="1" height="42.40" fill="#0d8570"/>
<rect x="938" y="111.10" width="5" height="27.20" fill="#10917a"/>
<rect x="946" y="107.10" width="1" height="55.10" fill="#c8384a"/>
<rect x="944" y="115.80" width="5" height="37.80" fill="#e53b4d"/>
<rect x="952" y="110.20" width="1" height="59.10" fill="#0d8570"/>
<rect x="950" y="125.90" width="5" height="27.70" fill="#10917a"/>
<rect x="957" y="118.90" width="1" height="28.10" fill="#0d8570"/>
<rect x="955" y="126.20" width="5" height="1.60" fill="#10917a"/>
<rect x="963" y="118.20" width="1" height="22.90" fill="#c8384a"/>
<rect x="961" y="125.90" width="5" height="7.50" fill="#e53b4d"/>
<!-- price axis -->
<text x="1096.5" y="8.8" text-anchor="end" class="ax">4,320.000</text>
<text x="1096.5" y="57.0" text-anchor="end" class="ax">4,318.000</text>
<text x="1096.5" y="105.2" text-anchor="end" class="ax">4,316.000</text>
<text x="1096.5" y="153.4" text-anchor="end" class="ax">4,314.000</text>
<text x="1096.5" y="201.6" text-anchor="end" class="ax">4,312.000</text>
<text x="1096.5" y="249.8" text-anchor="end" class="ax">4,310.000</text>
<text x="1096.5" y="298.1" text-anchor="end" class="ax">4,308.000</text>
<text x="1096.5" y="346.3" text-anchor="end" class="ax">4,306.000</text>
<text x="1096.5" y="394.5" text-anchor="end" class="ax">4,304.000</text>
<text x="1096.5" y="442.7" text-anchor="end" class="ax">4,302.000</text>
<text x="1096.5" y="490.9" text-anchor="end" class="ax">4,300.000</text>
<text x="1096.5" y="539.1" text-anchor="end" class="ax">4,298.000</text>
<!-- last price label -->
<rect x="1024" y="123" width="77.5" height="20.8" rx="2" fill="#ec3a4a"/>
<text x="1064" y="138.4" text-anchor="middle" style="font-size:14.2px;font-weight:bold;fill:#fff">4,314.680</text>
<!-- volume label -->
<rect x="1061" y="524" width="40" height="20.5" fill="#fff"/>
<text x="1096.5" y="539.6" text-anchor="end" class="ax">8.000</text>
<path d="M1024 524.2 h34.5 a2 2 0 0 1 2 2 v16.3 a2 2 0 0 1 -2 2 h-34.5 z" fill="#f05252"/>
<text x="1044.3" y="539.6" text-anchor="middle" style="font-size:14.2px;font-weight:bold;fill:#fff">794</text>
<!-- time axis -->
<text x="83.8" y="584" text-anchor="middle" transform="translate(0 584) scale(1 1.07) translate(0 -584)" class="tm">06:15</text>
<text x="169.5" y="584" text-anchor="middle" transform="translate(0 584) scale(1 1.07) translate(0 -584)" class="tm">06:30</text>
<text x="255.2" y="584" text-anchor="middle" transform="translate(0 584) scale(1 1.07) translate(0 -584)" class="tm">06:45</text>
<text x="340.9" y="584" text-anchor="middle" transform="translate(0 584) scale(1 1.07) translate(0 -584)" class="tm b">07:00</text>
<text x="426.5" y="584" text-anchor="middle" transform="translate(0 584) scale(1 1.07) translate(0 -584)" class="tm">07:15</text>
<text x="512.2" y="584" text-anchor="middle" transform="translate(0 584) scale(1 1.07) translate(0 -584)" class="tm">07:30</text>
<text x="597.9" y="584" text-anchor="middle" transform="translate(0 584) scale(1 1.07) translate(0 -584)" class="tm">07:45</text>
<text x="683.6" y="584" text-anchor="middle" transform="translate(0 584) scale(1 1.07) translate(0 -584)" class="tm b">08:00</text>
<text x="769.3" y="584" text-anchor="middle" transform="translate(0 584) scale(1 1.07) translate(0 -584)" class="tm">08:15</text>
<text x="854.9" y="584" text-anchor="middle" transform="translate(0 584) scale(1 1.07) translate(0 -584)" class="tm">08:30</text>
<text x="940.6" y="584" text-anchor="middle" transform="translate(0 584) scale(1 1.07) translate(0 -584)" class="tm">08:45</text>
<!-- settings hexagon -->
<g fill="none" stroke="#131722" stroke-width="1.25">
<path d="M1061.5 572.6 L1070.3 572.6 L1074.6 579.8 L1070.3 587.0 L1061.5 587.0 L1057.2 579.8 Z"/>
<circle cx="1066" cy="579.7" r="2.6" stroke-width="1.1"/>
</g>
<!-- bottom strip -->
<rect x="0" y="0" width="1" height="597" fill="#ececec"/>
<rect x="0" y="595" width="1107" height="2" fill="#e6e6e6"/>
<!-- legend -->
<circle cx="22.55" cy="18.15" r="10.0" fill="#db9c0c" stroke="#cf9108" stroke-width="0.6"/>
<g fill="#fff4b8">
<path d="M20.4 13.7 h4.3 l1.7 3.5 h-7.7 z"/>
<path d="M16.8 18.0 h11.4 l2.3 4.1 h-16 z"/>
</g>
<path d="M20.6 17.2 h3.9 l-1.95 3.6 z" fill="#a89a3a"/>
<path d="M14.3 22.1 h16.4" stroke="#f3d36a" stroke-width="0.6"/>
<!-- legend pill -->
<rect x="256" y="8.5" width="48" height="20.2" rx="10.1" fill="#e2f0ed"/>
<path d="M280 8.5 h14 a10.1 10.1 0 0 1 0 20.2 h-14 z" fill="#f6b3cc"/>
<circle cx="268.9" cy="18" r="4.9" fill="#129b80"/>
<text x="291.2" y="24.2" text-anchor="middle" style="font-size:19px;font-weight:bold;fill:#b52d66">≈</text>
<!-- collapse button -->
<rect x="11.5" y="65.5" width="33" height="24" rx="3" fill="#fff" stroke="#dfe2e8" stroke-width="1"/>
<path d="M23.6 79.6 L28.3 75.1 L33 79.6" fill="none" stroke="#131722" stroke-width="1.8"/>
<!-- TradingView logo pill -->
<rect x="16.5" y="503.5" width="154" height="40" rx="20" fill="#fff" stroke="#e7e9ee" stroke-width="1"/>
<g fill="#131722">
<path d="M23.8 517.3 h10.8 v13.3 h-5.0 v-8.5 h-5.8 z"/>
<circle cx="38.6" cy="519.8" r="1.9"/>
<path d="M44.1 517.3 h4.9 l-5.2 13.3 h-5.4 z"/>
</g>
<text x="56" y="531" style="font-size:17.9px;font-weight:bold;fill:#131722">TradingView</text>
</svg>
<div class="t" style="left:39.5px;top:8.6px;font-size:18.55px;">Vàng / Đô la Mỹ · 1 · ICE</div>
<div class="t sy" style="left:312.6px;top:10.0px;font-size:15.4px;transform:scaleY(1.1);transform-origin:0 13px;">O</div>
<div class="t sy" style="left:326.6px;top:10.0px;font-size:15.4px;color:#d4505e;letter-spacing:0.12px;transform:scaleY(1.1);transform-origin:0 13px;">4,314.979</div>
<div class="t sy" style="left:403.1px;top:10.0px;font-size:15.4px;transform:scaleY(1.1);transform-origin:0 13px;">H</div>
<div class="t sy" style="left:415.6px;top:10.0px;font-size:15.4px;color:#d4505e;letter-spacing:0.12px;transform:scaleY(1.1);transform-origin:0 13px;">4,315.310</div>
<div class="t sy" style="left:492.2px;top:10.0px;font-size:15.4px;transform:scaleY(1.1);transform-origin:0 13px;">L</div>
<div class="t sy" style="left:501.4px;top:10.0px;font-size:15.4px;color:#d4505e;letter-spacing:0.12px;transform:scaleY(1.1);transform-origin:0 13px;">4,314.320</div>
<div class="t sy" style="left:577.9px;top:10.0px;font-size:15.4px;transform:scaleY(1.1);transform-origin:0 13px;">C</div>
<div class="t sy" style="left:589.6px;top:10.0px;font-size:15.4px;color:#d4505e;letter-spacing:0.12px;transform:scaleY(1.1);transform-origin:0 13px;">4,314.680</div>
<div class="t sy" style="left:666.4px;top:10.0px;font-size:15.4px;color:#d4505e;letter-spacing:0.12px;transform:scaleY(1.1);transform-origin:0 13px;">−0.255 (−0.01%)</div>
<div class="t" style="left:12.6px;top:39.8px;font-size:15.3px;transform:scaleY(1.1);transform-origin:0 13px;">Khối lượng</div>
<div class="t" style="left:98.3px;top:39.8px;font-size:14.8px;color:#d86a72;transform:scaleY(1.13);transform-origin:0 12.5px;">794</div>
</body></html>
